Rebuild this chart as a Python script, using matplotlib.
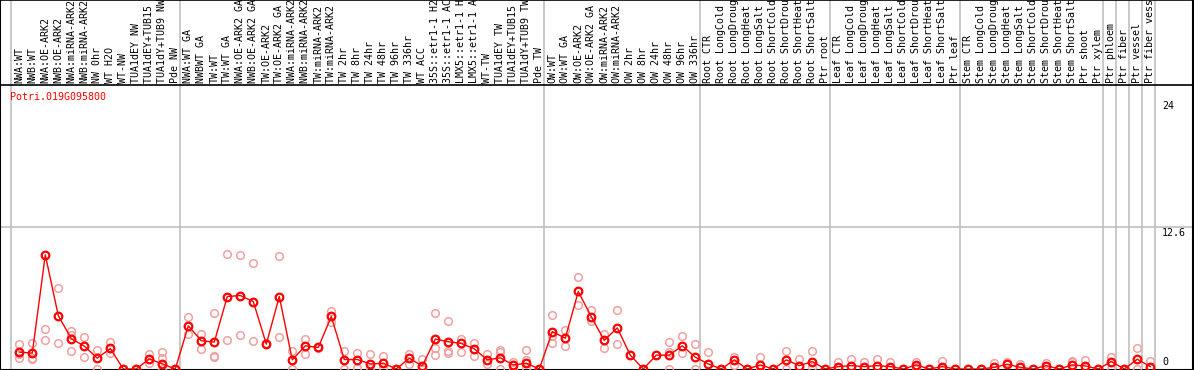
import numpy as np
import matplotlib
matplotlib.use("Agg")
import matplotlib.pyplot as plt

gene = "Potri.019G095800"

labels = [
    # nw
    "NWA:WT", "NWB:WT", "NWA:OE-ARK2", "NWB:OE-ARK2", "NWA:miRNA-ARK2", "NWB:miRNA-ARK2",
    "NW 0hr", "WT H2O", "WT-NW", "TUA1dEY NW", "TUA1dEY+TUB15 NW", "TUA1dY+TUB9 NW", "Pde NW",
    # tw
    "NWA:WT GA", "NWBWT GA", "TW:WT", "TW:WT GA", "NWA:OE-ARK2 GA", "NWB:OE-ARK2 GA",
    "TW:OE-ARK2", "TW:OE-ARK2 GA", "NWA:miRNA-ARK2 GA", "NWB:miRNA-ARK2 GA", "TW:miRNA-ARK2",
    "TW:miRNA-ARK2 GA", "TW 2hr", "TW 8hr", "TW 24hr", "TW 48hr", "TW 96hr", "TW 336hr",
    "WT ACC", "35S::etr1-1 H2O", "35S::etr1-1 ACC", "LMX5::etr1-1 H2O", "LMX5::etr1-1 ACC",
    "WT-TW", "TUA1dEY TW", "TUA1dEY+TUB15 TW", "TUA1dY+TUB9 TW", "Pde TW",
    # ow
    "OW:WT", "OW:WT GA", "OW:OE-ARK2", "OW:OE-ARK2 GA", "OW:miRNA-ARK2", "OW:miRNA-ARK2 GA",
    "OW 2hr", "OW 8hr", "OW 24hr", "OW 48hr", "OW 96hr", "OW 336hr",
    # root
    "Root CTR", "Root LongCold", "Root LongDrought", "Root LongHeat", "Root LongSalt",
    "Root ShortCold", "Root ShortDrought", "Root ShortHeat", "Root ShortSalt", "Ptr root",
    # leaf
    "Leaf CTR", "Leaf LongCold", "Leaf LongDrought", "Leaf LongHeat", "Leaf LongSalt",
    "Leaf ShortCold", "Leaf ShortDrought", "Leaf ShortHeat", "Leaf ShortSalt", "Ptr leaf",
    # stem
    "Stem CTR", "Stem LongCold", "Stem LongDrought", "Stem LongHeat", "Stem LongSalt",
    "Stem ShortCold", "Stem ShortDrought", "Stem ShortHeat", "Stem ShortSalt", "Ptr shoot",
    "Ptr xylem",
    "Ptr phloem", "Ptr fiber", "Ptr vessel", "Ptr fiber vessel",
]

# index where each group starts (plus the end)
group_edges = [0, 13, 41, 53, 63, 73, 84, 85, 86, 87, 88]

means = [
    1.5, 1.41, 10.13, 4.73, 2.69, 2.03, 0.96, 1.82, 0, 0, 0.90, 0.45, 0,
    3.83, 2.51, 2.39, 6.43, 6.52, 5.98, 2.21, 6.43, 0.81, 2.06, 1.91, 4.66, 0.84, 0.84,
    0.45, 0.51, 0, 0.96, 0.27, 2.66, 2.42, 2.27, 1.79, 0.81, 0.99, 0.36, 0.51, 0,
    3.32, 2.73, 6.88, 4.63, 2.54, 3.65, 1.23, 0, 1.23, 1.23, 2.06, 1.05,
    0.45, 0, 0.81, 0, 0.36, 0, 0.81, 0.3, 0.66, 0,
    0.21, 0.3, 0.21, 0.3, 0.21, 0, 0.36, 0, 0.21, 0,
    0, 0, 0.15, 0.42, 0.15, 0, 0.3, 0, 0.36, 0.27, 0,
    0.66, 0, 0.87, 0.21,
]

reps = [
    [2.2, 1.0, 1.3], [2.35, 1.0, 0.9], [3.56, 2.6], [7.15, 2.3], [3.38, 3.05, 1.61],
    [2.84, 1.05], [1.7, 0.0], [2.42, 1.41], [0, 0], [0, 0], [1.35, 0.57], [1.55, 0.96, 0],
    [0, 0],
    [4.64, 3.11], [3.14, 1.76], [5.0, 1.17, 1.05], [10.22, 2.6], [10.13, 3.02], [9.42, 2.51],
    [2.3], [10.0, 2.84], [1.61, 0], [2.69, 1.29], [1.95, 1.85], [5.14, 4.16], [1.61, 0],
    [1.46, 0.06], [1.32, 0.1], [1.17, 0.1], [0, 0], [1.35, 0.42], [0.9, 0],
    [4.93, 1.86, 1.2], [4.22, 1.61, 1.41], [2.66, 1.52], [2.3, 1.17], [1.32, 0.48],
    [1.7, 1.5, 0], [0.66, 0.1], [1.7, 0.81, 0.05], [0, 0],
    [4.75, 2.9, 2.27], [3.5, 2.0], [8.19, 5.65], [5.2, 4.25], [3.14, 1.86], [5.2, 2.24],
    [1.23], [0], [1.23], [2.42, 1.55, 0], [2.93, 1.46], [2.21, 0],
    [1.52], [0], [1.1, 0.36], [0], [1.1, 0], [0], [1.59, 0], [0.87], [1.59, 0.21], [0],
    [0.66], [0.87], [0.66], [0.87], [0.66], [0], [0.66, 0.2], [0], [0.7], [0],
    [0], [0], [0.51], [0.6], [0.45], [0], [0.51], [0], [0.72, 0.6], [0.81], [0],
    [1.1, 0], [0], [1.88, 0], [0.72],
]

ymax = 25.2
yticks = [24, 12.6, 0]

W, H = 1194, 370
x0, step = 19.3, 13.0       # pixel of first column centre, column width
top, bottom = 85, 369        # pixel rows of plot top / zero line
xlim = (-x0 / step, (W - x0) / step)

fig = plt.figure(figsize=(W / 100, H / 100), dpi=100)

# background axes in pixel rows for labels, separators and frame
bg = fig.add_axes([0, 0, 1, 1])
bg.set_xlim(*xlim)
bg.set_ylim(H, 0)
bg.set_axis_off()

for k in group_edges:
    bg.plot([k - 0.66, k - 0.66], [0, bottom], color="#c0c0c0", lw=1.2)
bg.plot(xlim, [top, top], color="black", lw=1.2)
y126 = bottom - 12.6 / ymax * (bottom - top)
bg.plot(xlim, [y126, y126], color="#c0c0c0", lw=1.2)

mono = "DejaVu Sans Mono"
for i, lab in enumerate(labels):
    bg.text(i, top - 2, lab, rotation=90, ha="center", va="bottom",
            fontsize=7.2, family=mono)

bg.text(-0.75, 97, gene, color="red", fontsize=7.2, family=mono, ha="left", va="center")

xr = (1162 - x0) / step
bg.text(xr, bottom - 24 / ymax * (bottom - top) + 2, "24", fontsize=7.2, family=mono, va="top")
bg.text(xr, y126 + 1, "12.6", fontsize=7.2, family=mono, va="top")
bg.text(xr, bottom - 2, "0", fontsize=7.2, family=mono, va="bottom")

# frame
bg.plot([xlim[0] + 0.03, xlim[0] + 0.03], [0, bottom], color="black", lw=1.5)
bg.plot([xlim[1] - 0.05, xlim[1] - 0.05], [0, bottom], color="black", lw=1.5)
bg.plot(xlim, [bottom + 0.5, bottom + 0.5], color="black", lw=1.5)
bg.plot(xlim, [0.3, 0.3], color="black", lw=1.2)

# data axes
ax = fig.add_axes([0, (H - bottom) / H, 1, (bottom - top) / H])
ax.patch.set_alpha(0)
ax.set_xlim(*xlim)
ax.set_ylim(0, ymax)
ax.set_axis_off()

xs = np.arange(len(means))
for i, r in enumerate(reps):
    ax.plot([i] * len(r), r, "o", ms=5.5, mfc="none", mec="#f0a0a0", mew=1.1)
ax.plot(xs, means, "-", color="red", lw=1)
ax.plot(xs, means, "o", ms=5.5, mfc="none", mec="red", mew=1.6)

fig.savefig("out.png", dpi=100)
